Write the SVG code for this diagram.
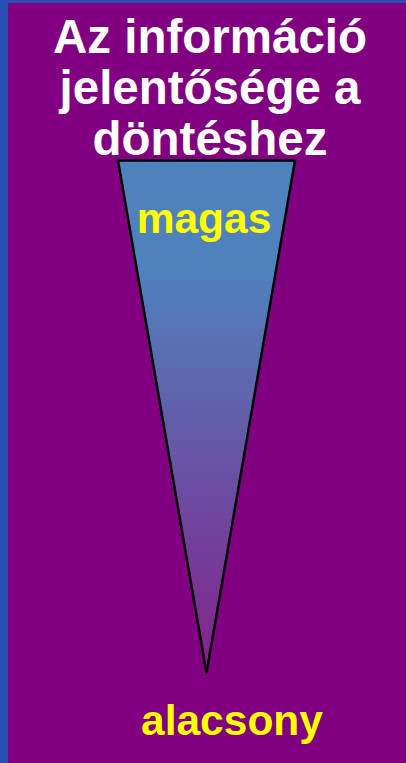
<svg xmlns="http://www.w3.org/2000/svg" width="406" height="763" viewBox="0 0 406 763">
  <defs>
    <linearGradient id="tri" x1="0" y1="0" x2="0" y2="1">
      <stop offset="0" stop-color="#4F81BD"/>
      <stop offset="0.22" stop-color="#4F81BD"/>
      <stop offset="1" stop-color="#84208A"/>
    </linearGradient>
    <style>
      .title { font-family: "Liberation Sans", Arial, sans-serif; font-weight: bold; font-size: 47.5px; fill: #FFFFFF; text-anchor: middle; }
      .label { font-family: "Liberation Sans", Arial, sans-serif; font-weight: bold; font-size: 42.5px; fill: #FFFF00; text-anchor: middle; }
    </style>
  </defs>
  <rect x="0" y="0" width="406" height="763" fill="#2B4FB0"/>
  <rect x="8" y="3" width="398" height="760" fill="#800080"/>
  <g id="title">
    <text class="title" x="210" y="53">Az információ</text>
    <text class="title" x="210" y="104">jelentősége a</text>
    <text class="title" x="210" y="155">döntéshez</text>
  </g>
  <g id="triangle">
    <polygon points="118,160.5 295,160.5 206.5,673" fill="url(#tri)" stroke="#000000" stroke-width="2.5" stroke-linejoin="miter"/>
  </g>
  <g id="labels">
    <text class="label" x="204" y="233">magas</text>
    <text class="label" x="232" y="735">alacsony</text>
  </g>
</svg>
